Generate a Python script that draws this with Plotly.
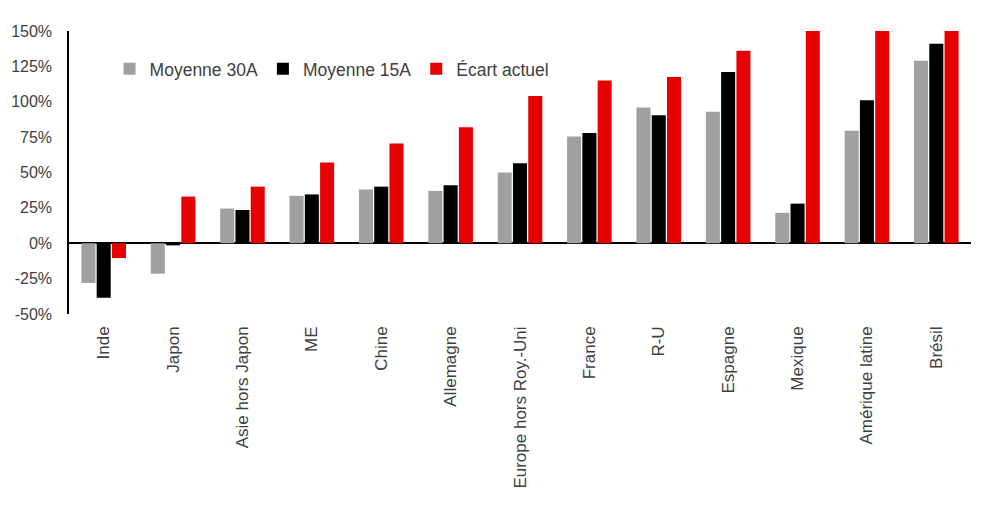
import plotly.graph_objects as go

# Catégories et valeurs (en %)
categories = ["Inde", "Japon", "Asie hors Japon", "ME", "Chine", "Allemagne",
              "Europe hors Roy.-Uni", "France", "R-U", "Espagne", "Mexique",
              "Amérique latine", "Brésil"]
moyenne_30a = [-28, -21.5, 24.5, 33.5, 38, 37, 50, 75.5, 96, 93, 21.5, 79.5, 129]
moyenne_15a = [-38.5, -1.5, 23.5, 34.5, 40, 41, 56.5, 78, 90.5, 121, 28, 101, 141]
ecart_actuel = [-10.5, 33, 40, 57, 70.5, 82, 104, 115, 117.5, 136, 175, 165, 180]

y_ticks = [-50, -25, 0, 25, 50, 75, 100, 125, 150]
y_ticklabels = [f"{v}%" for v in y_ticks]

fig = go.Figure()
fig.add_trace(go.Bar(x=categories, y=moyenne_30a, name="Moyenne 30A",
                     marker=dict(color="#A0A0A0", line_width=0)))
fig.add_trace(go.Bar(x=categories, y=moyenne_15a, name="Moyenne 15A",
                     marker=dict(color="#000000", line_width=0)))
fig.add_trace(go.Bar(x=categories, y=ecart_actuel, name="Écart actuel",
                     marker=dict(color="#E60000", line_width=0)))

fig.update_layout(
    width=993,
    height=523,
    barmode="group",
    bargap=0.34,
    bargroupgap=0.08,
    paper_bgcolor="white",
    plot_bgcolor="white",
    font=dict(family="Liberation Sans, Arial, sans-serif", size=17, color="#404040"),
    margin=dict(l=61, r=30, t=23, b=217),
    showlegend=True,
    legend=dict(
        orientation="h",
        x=0.045, y=0.866,
        xanchor="left", yanchor="middle",
        font=dict(size=17.5, color="#404040"),
        bgcolor="rgba(0,0,0,0)",
        itemwidth=30,
        traceorder="normal",
    ),
    xaxis=dict(
        automargin=False,
        showline=False,
        showgrid=False,
        ticks="",
        tickangle=-90,
        ticklabelstandoff=8,
        tickfont=dict(size=17, color="#404040"),
    ),
    yaxis=dict(
        automargin=False,
        range=[-50, 150],
        tickvals=y_ticks,
        ticktext=y_ticklabels,
        showgrid=False,
        showline=True,
        linecolor="#000000",
        linewidth=1.5,
        zeroline=True,
        zerolinecolor="#000000",
        zerolinewidth=1.5,
        ticks="",
        ticklabelstandoff=12,
        tickfont=dict(size=16, color="#404040"),
    ),
)

fig.write_html("out.html")
